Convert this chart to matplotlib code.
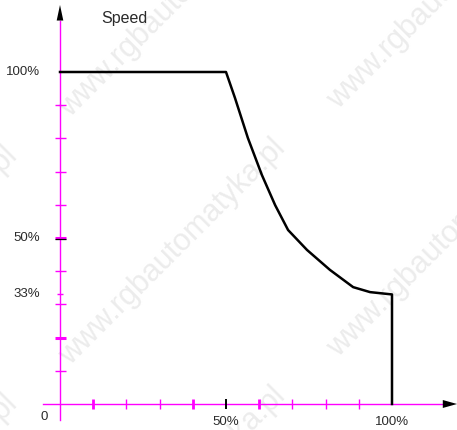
import numpy as np
import matplotlib.pyplot as plt
from matplotlib.patches import Polygon

# speed characteristic, both axes in percent
speed_x = [0, 50, 52.7, 56.6, 60.8, 64.8, 68.7, 74.4, 81.3, 88.3, 93.4, 100, 100]
speed_y = [100, 100, 92.2, 80.1, 69.0, 59.9, 52.4, 46.4, 40.4, 35.2, 33.7, 33, 0]

x_ticks = [10, 20, 30, 40, 50, 60, 70, 80, 90]
x_thick = [10, 40, 60]
y_ticks = [10, 20, 30, 40, 50, 60, 70, 80, 90]
y_thick = [20, 50]
y_short = [33]

y_labels = {100: '100%', 50: '50%', 33: '33%'}
x_labels = {50: '50%', 100: '100%'}

MAG = '#ff00ff'
TXT = '#2a2a2a'
PX = 3.32  # pixels per percent

fig = plt.figure(figsize=(4.57, 4.30), dpi=100)
ax = fig.add_axes([0, 0, 1, 1])
ax.set_xlim(-60 / PX, (457 - 60) / PX)
ax.set_ylim(-26 / PX, (430 - 26) / PX)
ax.axis('off')

# watermark
for i in (-1, 0, 1):
    for j in (0, 1, 2):
        px, py = 64 + 268 * i, 112 + 248 * j - 8 * i
        ax.text((px - 60) / PX, (404 - py) / PX, 'www.rgbautomatyka.pl',
                rotation=45, rotation_mode='anchor', ha='left', va='center',
                fontsize=22, family='Liberation Sans', color='#ececec', zorder=0)

# axes lines
ax.plot([-5.1, 115.5], [0, 0], color=MAG, lw=1.0, zorder=2)
ax.plot([0, 0], [-4.8, 115.5], color=MAG, lw=1.0, zorder=2)
ax.add_patch(Polygon([[119.6, 0], [115.3, 1.2], [115.3, -1.2]], closed=True,
                     color='black', lw=0, zorder=4))
ax.add_patch(Polygon([[0, 120.2], [-1.0, 115.5], [1.0, 115.5]], closed=True,
                     color='black', lw=0, zorder=4))

# ticks
h = 5 / PX
for t in x_ticks:
    if t == 50:
        ax.vlines(t, -h, h, color='black', lw=1.4, zorder=3)
    else:
        ax.vlines(t, -h, h, color=MAG, lw=2.0 if t in x_thick else 1.0, zorder=3)
for t in y_ticks:
    ax.hlines(t, -h, 6 / PX, color=MAG, lw=2.2 if t in y_thick else 1.0, zorder=3)
    if t == 50:
        ax.hlines(t - 0.25, -h, 6 / PX, color='black', lw=0.9, zorder=3)
for t in y_short:
    ax.hlines(t, -3 / PX, 3 / PX, color=MAG, lw=1.0, zorder=3)

# curve
ax.plot(speed_x, speed_y, color='black', lw=1.8, solid_joinstyle='round', zorder=5)

# labels
for v, s in y_labels.items():
    ax.text(-20 / PX, v, s, ha='right', va='center', fontsize=9.5,
            family='Liberation Sans', color=TXT)
for v, s in x_labels.items():
    ax.text(v, -18 / PX, s, ha='center', va='center', fontsize=9.5,
            family='Liberation Sans', color=TXT)
ax.text(-16 / PX, -13 / PX, '0', ha='center', va='center', fontsize=9.5,
        family='Liberation Sans', color=TXT)
ax.text(41 / PX, 386 / PX, 'Speed', ha='left', va='center', fontsize=11.5,
        family='Liberation Sans', color=TXT)

fig.savefig('out.png', dpi=100)
